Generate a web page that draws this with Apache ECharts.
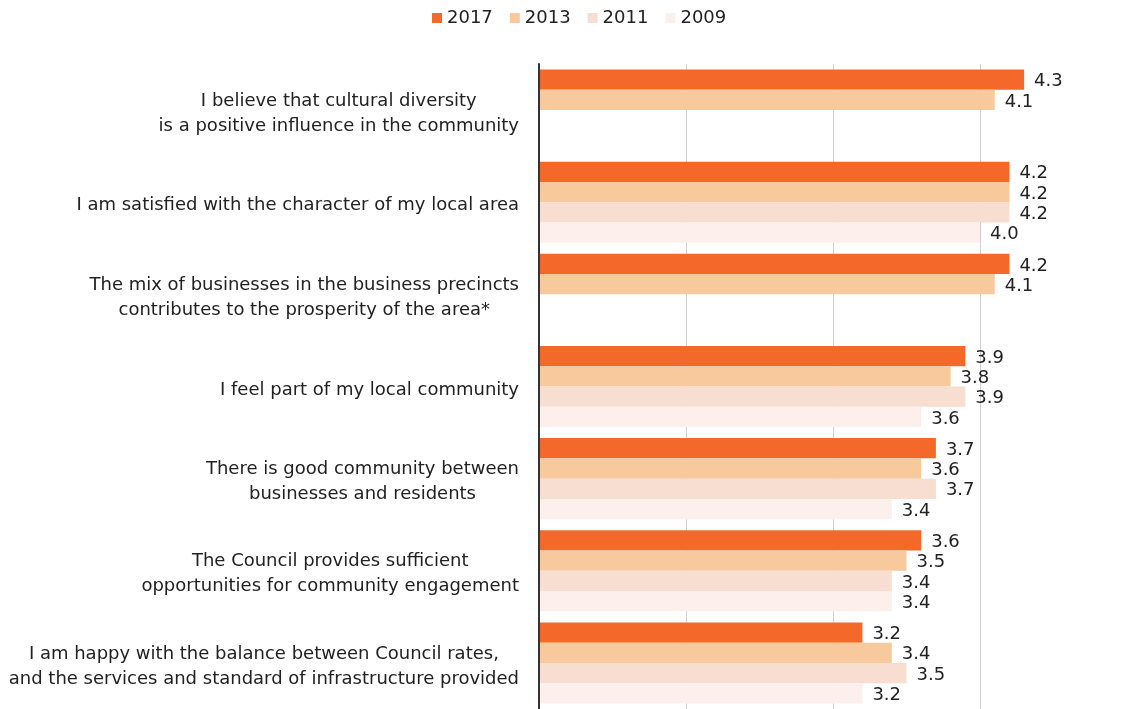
<!DOCTYPE html>
<html>
<head>
<meta charset="utf-8">
<script src="https://cdn.jsdelivr.net/npm/echarts@6/dist/echarts.min.js"></script>
<style>
  html, body { margin: 0; padding: 0; background: #ffffff; }
  #chart { width: 1121px; height: 709px; }
</style>
</head>
<body>
<div id="chart"></div>
<script>
// Survey statements (mean agreement score, 1–5 scale)
const categories = [
  'I believe that cultural diversity\nis a positive influence in the community',
  'I am satisfied with the character of my local area',
  'The mix of businesses in the business precincts\ncontributes to the prosperity of the area*',
  'I feel part of my local community',
  'There is good community between\nbusinesses and residents',
  'The Council provides sufficient\nopportunities for community engagement',
  'I am happy with the balance between Council rates,\nand the services and standard of infrastructure provided'
];
const years = ['2017', '2013', '2011', '2009'];
const values2017 = [4.3, 4.2, 4.2, 3.9, 3.7, 3.6, 3.2];
const values2013 = [4.1, 4.2, 4.1, 3.8, 3.6, 3.5, 3.4];
const values2011 = [null, 4.2, null, 3.9, 3.7, 3.4, 3.5];
const values2009 = [null, 4.0, null, 3.6, 3.4, 3.4, 3.2];
const axisTicks = [1, 2, 3, 4, 5];

const seriesValues = [values2017, values2013, values2011, values2009];
const colors = ['#f4682a', '#f7c99c', '#f8ddd1', '#fcefec'];
const FONT = '"DejaVu Sans", sans-serif';

const chart = echarts.init(document.getElementById('chart'), null, { renderer: 'canvas' });

const series = years.map((y, i) => ({
  name: y,
  type: 'bar',
  data: seriesValues[i].map(v => (v == null ? '-' : v)),
  barGap: '0%',
  barCategoryGap: '12%',
  itemStyle: { color: colors[i] },
  label: {
    show: true,
    position: 'right',
    distance: 10,
    offset: [0, 2],
    color: '#222',
    fontFamily: FONT,
    fontSize: 18,
    formatter: p => Number(p.value).toFixed(1)
  },
  emphasis: { disabled: true }
}));

chart.setOption({
  animation: false,
  color: colors,
  legend: {
    data: years,
    top: 4,
    left: 427,
    itemWidth: 10,
    itemHeight: 10,
    itemGap: 17,
    icon: 'rect',
    textStyle: { color: '#222', fontFamily: FONT, fontSize: 18 }
  },
  grid: { left: 539, width: 588, top: 64, bottom: 0, containLabel: false, outerBoundsMode: 'none' },
  xAxis: {
    type: 'value',
    min: axisTicks[0],
    max: axisTicks[axisTicks.length - 1],
    interval: 1,
    axisLabel: { show: false },
    axisTick: { show: false },
    axisLine: { show: false },
    splitLine: { show: true, lineStyle: { color: '#cfcfd4', width: 1 } }
  },
  yAxis: {
    type: 'category',
    data: categories,
    inverse: true,
    z: 5,
    axisTick: { show: false },
    axisLine: { show: true, lineStyle: { color: '#333', width: 2 } },
    axisLabel: {
      margin: 20,
      fontFamily: FONT,
      fontSize: 18,
      color: '#222',
      align: 'right',
      lineHeight: 25,
      padding: [7, 0, 0, 0],
      formatter: v => v.split('\n').map(s => '{c|' + s + '}').join('\n'),
      rich: { c: { align: 'center', fontFamily: FONT, fontSize: 18, color: '#222', lineHeight: 25 } }
    }
  },
  series: series
});
</script>
</body>
</html>
